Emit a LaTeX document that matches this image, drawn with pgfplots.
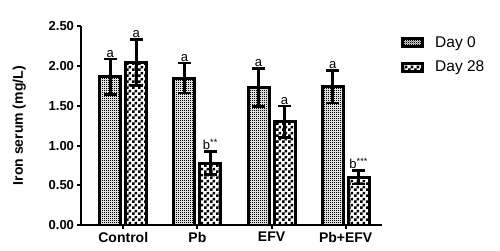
\documentclass[border=0pt]{standalone}
\usepackage{pgfplots}
\usepackage{pgfplotstable}
\pgfplotsset{compat=1.18}
\usepackage{fontspec}
\setmainfont{Liberation Sans}
\usetikzlibrary{patterns}
\pgfdeclarepatternformonly{finecheck}{\pgfpointorigin}{\pgfpoint{2pt}{2pt}}{\pgfpoint{2pt}{2pt}}{%
  \pgfpathrectangle{\pgfpointorigin}{\pgfpoint{1.2pt}{1.2pt}}%
  \pgfpathrectangle{\pgfpoint{1pt}{1pt}}{\pgfpoint{1.2pt}{1.2pt}}%
  \pgfusepath{fill}}
\pgfdeclarepatternformonly{coarsecheck}{\pgfpointorigin}{\pgfpoint{6pt}{6pt}}{\pgfpoint{6pt}{6pt}}{%
  \pgfpathrectangle{\pgfpointorigin}{\pgfpoint{3pt}{3pt}}%
  \pgfpathrectangle{\pgfpoint{3pt}{3pt}}{\pgfpoint{3pt}{3pt}}%
  \pgfusepath{fill}}
\pgfplotstableread{
x y err lab
0 1.865 0.225 a
1 1.85 0.19 a
2 1.73 0.24 a
3 1.74 0.205 a
}\dayzero
\pgfplotstableread{
x y err lab
0 2.05 0.29 a
1 0.78 0.145 {b\textsuperscript{**}}
2 1.30 0.20 a
3 0.60 0.085 {b\textsuperscript{***}}
}\daytwentyeight
\pgfplotsset{
  errlab/.style={forget plot, only marks, mark=none,
    nodes near coords, point meta=explicit symbolic,
    nodes near coords style={font=\fontsize{13}{13}\selectfont, anchor=south, inner sep=1.5pt,
      yshift={\errval*79.4pt}, black},
    visualization depends on={\thisrow{err} \as \errval},
    error bars/y dir=both, error bars/y explicit,
    error bars/error bar style={line width=2.6pt, draw=black},
    error bars/error mark options={rotate=90, mark size=6.5pt, line width=2.6pt, draw=black}},
  outline/.style={forget plot, sharp plot, mark=none, draw=black, line width=3pt,
    line join=miter, unbounded coords=jump}
}
\begin{document}
\begin{tikzpicture}
\useasboundingbox (0,0) rectangle (500pt,251pt);
\begin{axis}[
  at={(81pt,26pt)}, anchor=south west,
  scale only axis, width=301pt, height=198.5pt,
  xmin=-0.57, xmax=3.49, ymin=0, ymax=2.5,
  axis x line*=bottom, axis y line*=left,
  axis line style={line width=2.2pt, black},
  xtick={0,1,2,3}, xticklabels={Control,Pb,EFV,Pb+EFV},
  ytick={0,0.5,1,1.5,2,2.5},
  /pgf/number format/fixed, /pgf/number format/fixed zerofill, /pgf/number format/precision=2,
  /pgf/number format/assume math mode=true,
  tick style={line width=2pt, black},
  tick align=outside, major tick length=4.5pt,
  xticklabel style={font=\bfseries\fontsize{14}{14}\selectfont, yshift=1pt},
  yticklabel style={font=\bfseries\fontsize{13}{13}\selectfont, xshift=1pt},
  ylabel={Iron serum (mg/L)},
  ylabel style={font=\bfseries\fontsize{14}{14}\selectfont, at={(axis description cs:-0.205,0.5)}, anchor=center},
  legend style={at={(axis description cs:1,1)}, anchor=north west, xshift=19pt, yshift=-8pt,
    draw=none, fill=none, inner sep=0pt, row sep=8pt, column sep=9pt,
    font=\fontsize{15.5}{15.5}\selectfont,
    nodes={font=\fontsize{15.5}{15.5}\selectfont}},
  legend cell align=left,
  clip=false,
]
% patterned bar fills
\addplot[ybar, bar width=21pt, bar shift=-13pt, draw=none, pattern=finecheck,
  legend image code/.code={\draw[line width=3pt, pattern=finecheck] (0pt,-4pt) rectangle (20pt,4pt);}]
  table[x=x, y=y] {\dayzero};
\addlegendentry{Day 0}
\addplot[ybar, bar width=21pt, bar shift=13pt, draw=none, pattern=coarsecheck,
  legend image code/.code={\draw[line width=3pt, pattern=coarsecheck] (0pt,-4pt) rectangle (20pt,4pt);}]
  table[x=x, y=y] {\daytwentyeight};
\addlegendentry{Day 28}
% bar outlines (same values as the bars)
\addplot[outline] coordinates {
  (-0.3169,0) (-0.3169,1.865) (-0.0337,1.865) (-0.0337,0) (0,nan)
  (0.6831,0) (0.6831,1.85) (0.9663,1.85) (0.9663,0) (1,nan)
  (1.6831,0) (1.6831,1.73) (1.9663,1.73) (1.9663,0) (2,nan)
  (2.6831,0) (2.6831,1.74) (2.9663,1.74) (2.9663,0)};
\addplot[outline] coordinates {
  (0.0337,0) (0.0337,2.05) (0.3169,2.05) (0.3169,0) (0,nan)
  (1.0337,0) (1.0337,0.78) (1.3169,0.78) (1.3169,0) (1,nan)
  (2.0337,0) (2.0337,1.30) (2.3169,1.30) (2.3169,0) (2,nan)
  (3.0337,0) (3.0337,0.60) (3.3169,0.60) (3.3169,0)};
% error bars and significance letters
\addplot[errlab] table[x expr=\thisrow{x}-0.1753, y=y, y error=err, meta=lab] {\dayzero};
\addplot[errlab] table[x expr=\thisrow{x}+0.1753, y=y, y error=err, meta=lab] {\daytwentyeight};
\end{axis}
\end{tikzpicture}
\end{document}
